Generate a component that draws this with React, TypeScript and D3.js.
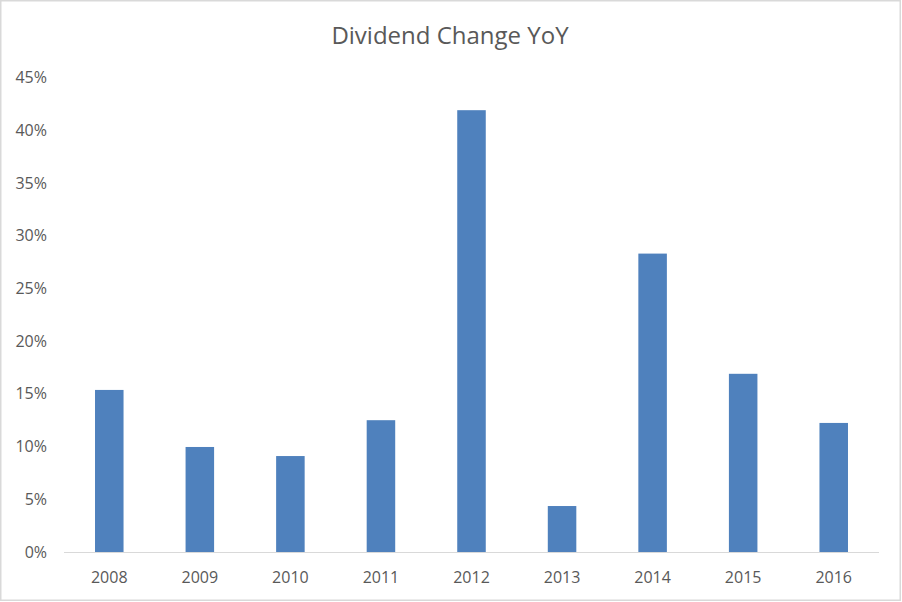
import React from "react";
import * as d3 from "d3";

const years = ["2008", "2009", "2010", "2011", "2012", "2013", "2014", "2015", "2016"];
const changes = [0.1537, 0.0996, 0.091, 0.125, 0.419, 0.0436, 0.283, 0.169, 0.1224];
const yTicks = [0, 0.05, 0.1, 0.15, 0.2, 0.25, 0.3, 0.35, 0.4, 0.45];
const title = "Dividend Change YoY";

export default function App() {
  const W = 902;
  const H = 602;
  const left = 64;
  const right = 879;
  const top = 77.5;
  const bottom = 552;
  const x = d3.scaleBand<string>().domain(years).range([left, right]).paddingInner(0.685).paddingOuter(0.3425);
  const y = d3.scaleLinear().domain([0, 0.45]).range([bottom, top]);
  const fmt = d3.format(".0%");
  const font = "'Open Sans', 'Noto Sans', sans-serif";
  const col = "#595959";
  return (
    <svg width={W} height={H} style={{ position: "absolute", left: 0, top: 0 }} fontFamily={font}>
      <rect x={0} y={0} width={W} height={H} fill="#ffffff" />
      <rect x={0.75} y={0.75} width={899.5} height={599.5} fill="none" stroke="#d9d9d9" strokeWidth={1.5} />
      <text x={450} y={44} textAnchor="middle" fontSize={24} fill={col}>{title}</text>
      {yTicks.map((t) => (
        <text key={t} x={47} y={y(t)} dy="0.35em" textAnchor="end" fontSize={16} fill={col}>{fmt(t)}</text>
      ))}
      {years.map((yr, i) => (
        <rect key={yr} x={x(yr)} y={y(changes[i])} width={x.bandwidth()} height={bottom - y(changes[i])} fill="#4f81bd" />
      ))}
      <line x1={left} x2={right} y1={bottom + 0.5} y2={bottom + 0.5} stroke="#d9d9d9" strokeWidth={1.2} />
      {years.map((yr) => (
        <text key={yr} x={(x(yr) as number) + x.bandwidth() / 2} y={577} dy="0.35em" textAnchor="middle" fontSize={16} fill={col}>{yr}</text>
      ))}
    </svg>
  );
}
